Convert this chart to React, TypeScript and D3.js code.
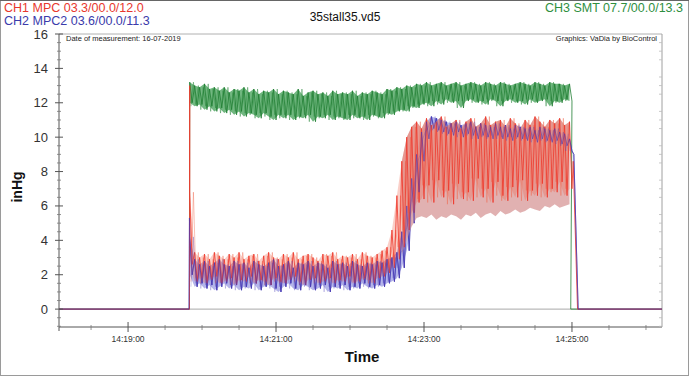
import React from 'react';
import * as d3 from 'd3';

// ---------- data (seconds relative to 14:19:00, values in inHg) ----------
const bandTimes = d3.range(50, 359, 4); // sampling grid of the envelopes

const greenHi = [13.2,13.0,12.9,13.1,12.8, 12.9,12.7,12.9,12.6,12.8, 12.7,12.9,12.6,12.8,12.5, 12.7,12.6,12.8,12.5,12.7, 12.6,12.5,12.8,12.4,12.6, 12.7,12.5,12.6,12.4,12.7, 12.5,12.6,12.5,12.7,12.4, 12.6,12.5,12.7,12.6,12.5, 12.8,12.7,12.9,12.8,13.0, 12.9,13.1,13.0,13.2,13.0, 13.1,13.2,13.0,13.1,13.2, 13.0,13.1,13.2,13.1,13.0, 13.2,13.1,13.0,13.2,13.1, 13.0,13.1,13.2,13.1,13.0, 13.2,13.1,13.0,13.2,13.1, 13.1,13.0,13.1];
const greenLo = [12.0,11.8,11.9,11.6,11.8, 11.5,11.7,11.4,11.6,11.3, 11.5,11.2,11.4,11.3,11.1, 11.4,11.2,11.0,11.3,11.1, 11.3,11.0,11.2,11.1,11.3, 10.9,11.2,11.1,11.3,11.0, 11.2,11.1,11.0,11.3,11.1, 11.2,11.0,11.3,11.2,11.1, 11.4,11.3,11.5,11.6,11.5, 11.8,11.7,11.9,12.0,11.8, 12.1,11.9,12.2,12.0,12.1, 11.7,12.1,12.2,12.0,12.1, 11.9,12.2,12.1,11.8,12.1, 12.2,12.0,12.1,11.9,12.2, 12.0,12.1,12.2,11.8,12.1, 12.0,12.2,12.1];

const redHi = [6.8,
  3.3,3.0,3.2,2.9,3.3, 3.1,2.9,3.2,3.0,3.3, 2.9,3.1,3.2,2.8,3.1, 3.3,3.0,2.9,3.2,3.0, 3.3,2.9,3.1,3.2,3.0, 2.8,3.2,3.1,3.3,2.9, 3.1,3.0,3.2,2.9,3.3, 3.1,3.0,3.2,3.4,3.6,
  4.6,6.6,8.6,10.0,10.6,10.9,
  10.5,11.1,10.7,10.9,11.2, 10.6,10.8,11.0,10.5,10.9, 11.1,10.6,10.8,11.2,10.7, 10.9,11.0,10.6,11.1,10.8, 10.5,11.0,10.7,11.2,10.9, 10.6,11.0,10.8,11.1,10.7, 10.9];
const redLo = [2.6,
  1.6,1.8,1.5,1.7,1.9, 1.5,1.6,1.8,1.4,1.7, 1.6,1.9,1.5,1.7,1.6, 1.4,1.8,1.6,1.5,1.7, 1.9,1.6,1.4,1.7,1.8, 1.5,1.6,1.8,1.5,1.7, 1.6,1.9,1.5,1.6,1.8, 1.7,1.5,1.8,1.9,2.1,
  2.4,2.9,3.6,4.6,5.6,6.2,
  6.4,7.2,6.2,7.5,6.5, 6.9,6.1,7.3,6.4,6.8, 6.3,7.6,6.5,7.0,6.2, 7.4,6.6,6.3,7.1,6.5, 7.5,6.3,6.9,6.6,7.3, 6.5,7.0,6.8,7.4,6.6, 7.0];
// pale lower envelope of CH1 during the high phase (from grid index 43 on)
const pinkFrom = 43;
const pinkLo = [3.2,4.0,4.8,5.3,5.4, 5.3,5.5,5.2,5.4,5.3, 5.5,5.4,5.2,5.5,5.4, 5.6,5.3,5.5,5.6,5.4, 5.7,5.5,5.6,5.8,5.6, 5.7,5.9,5.8,5.7,6.0, 5.9,6.1,5.9,6.0,6.1];

const blueHi = [4.2,
  2.9,2.6,2.8,2.5,2.7, 2.9,2.6,2.5,2.8,2.6, 2.7,2.4,2.8,2.6,2.5, 2.7,2.9,2.5,2.6,2.8, 2.4,2.7,2.6,2.8,2.5, 2.7,2.6,2.4,2.8,2.6, 2.7,2.5,2.8,2.6,2.5, 2.7,2.6,2.8,2.7,2.9, 3.0,
  3.3,4.5,6.0,7.6,9.0,10.3,10.9,11.2,11.1,
  11.0,10.9,10.8,10.9,10.7, 10.8,10.9,10.6,10.8,10.7, 10.6,10.8,10.6,10.7,10.5, 10.7,10.6,10.5,10.6,10.4, 10.6,10.5,10.4,10.5,10.3, 10.2,9.9];
const blueLo = [2.0,
  1.3,1.5,1.2,1.4,1.1, 1.3,1.5,1.2,1.4,1.1, 1.3,1.2,1.5,1.1,1.3, 1.4,1.2,1.0,1.3,1.5, 1.2,1.1,1.4,1.3,1.1, 1.2,1.4,1.0,1.3,1.2, 1.4,1.1,1.3,1.2,1.5, 1.3,1.2,1.4,1.3,1.5, 1.6,
  1.8,2.4,3.4,5.0,6.8,8.6,9.9,10.5,10.4,
  10.3,10.2,10.1,10.3,10.0, 10.2,10.1,9.9,10.1,10.0, 9.9,10.1,9.9,10.0,9.8, 10.0,9.9,9.8,9.9,9.7, 9.9,9.8,9.7,9.8,9.6, 9.5,9.2];

// idle (zero) phases and switch-on / switch-off edges
const greenStartT = [-56, 49.8];   const greenStartV = [0, 0];
const greenEndT = [359, 433];      const greenEndV = [0, 0];
const redStartT = [-56, 49.8, 50]; const redStartV = [0, 0, 13.0];
const redEndT = [361, 364.5, 433]; const redEndV = [8.6, 0, 0];
const blueStartT = [-56, 49.5, 49.8]; const blueStartV = [0, 0, 5.3];
const blueEndT = [361.5, 365, 433];  const blueEndV = [9.0, 0, 0];

// axes
const xMajorTicks = [0, 120, 240, 360];
const xTickLabels = ['14:19:00', '14:21:00', '14:23:00', '14:25:00'];
const yTicks = [0, 2, 4, 6, 8, 10, 12, 14, 16];

const W = 689, H = 376;
const L = 59, R = 662, T = 34, B = 327;
const FONT = "Arial, 'Liberation Sans', sans-serif";
const NARROW = "'Liberation Sans Narrow', 'Arial Narrow', Arial, 'Liberation Sans', sans-serif";

type P = [number, number];

export default function App() {
  const x = d3.scaleLinear().domain([-56, 433]).range([L, R]);
  const y = d3.scaleLinear().domain([-1.04, 16]).range([B, T]);

  const n = (a: number[], b: number[]) => Math.min(bandTimes.length, a.length, b.length);

  // trace drawn as oscillation between the read envelopes
  const zig = (lo: number[], hi: number[]) => {
    const pts: P[] = [];
    for (let i = 0; i < n(lo, hi); i++) {
      pts.push([bandTimes[i], hi[i]]);
      pts.push([bandTimes[i] + 2, lo[i]]);
    }
    return pts;
  };
  // second, phase-shifted pass of the same envelopes for density
  const zig2 = (lo: number[], hi: number[]) => {
    const pts: P[] = [];
    const m = n(lo, hi);
    for (let i = 0; i < m - 1; i++) {
      pts.push([bandTimes[i] + 1, lo[i + 1]]);
      pts.push([bandTimes[i] + 3, hi[i]]);
    }
    return pts;
  };
  const pairs = (ts: number[], vs: number[]) => ts.map((t, i) => [t, vs[i]] as P);

  const line = d3.line<P>().x(d => x(d[0])).y(d => y(d[1]));
  const area = d3.area<{ t: number; lo: number; hi: number }>()
    .x(d => x(d.t)).y0(d => y(d.lo)).y1(d => y(d.hi));
  const band = (lo: number[], hi: number[], from = 0) => {
    const out: { t: number; lo: number; hi: number }[] = [];
    for (let i = 0; i < lo.length; i++) {
      const k = i + from;
      if (k >= bandTimes.length || k >= hi.length) break;
      out.push({ t: bandTimes[k], lo: lo[i], hi: hi[k] });
    }
    return out;
  };
  const bandSame = (lo: number[], hi: number[]) =>
    d3.range(n(lo, hi)).map(i => ({ t: bandTimes[i], lo: lo[i], hi: hi[i] }));

  const greenPts = [...pairs(greenStartT, greenStartV), ...zig(greenLo, greenHi), ...pairs(greenEndT, greenEndV)];
  const redPts = [...pairs(redStartT, redStartV), ...zig(redLo, redHi), ...pairs(redEndT, redEndV)];
  const bluePts = [...pairs(blueStartT, blueStartV), ...zig(blueLo, blueHi), ...pairs(blueEndT, blueEndV)];

  const yMinor = d3.range(-1, 16.01, 0.5).filter(v => v >= -1.04 && Math.abs(v % 2) > 1e-6);
  const xMinor = d3.range(-30, 433, 30).filter(v => !xMajorTicks.includes(v));

  return (
    <svg width={W} height={H} style={{ position: 'absolute', left: 0, top: 0, background: '#fff' }}>
      <defs>
        <clipPath id="plot"><rect x={L} y={T} width={R - L} height={B - T} /></clipPath>
      </defs>
      <rect x={0.5} y={0.5} width={W - 1} height={H - 1} fill="#fff" stroke="#9a9a9a" />

      {/* frame */}
      <line x1={L} x2={R} y1={T} y2={T} stroke="#b0b0b0" />
      <line x1={R} x2={R} y1={T} y2={B} stroke="#a0a0a0" />
      <line x1={L} x2={R} y1={y(0)} y2={y(0)} stroke="#a8a8a8" strokeWidth={1} />

      <g clipPath="url(#plot)">
        {/* CH3 green */}
        <path d={area(bandSame(greenLo, greenHi)) || ''} fill="#34984a" opacity={0.7} />
        <path d={line(zig2(greenLo, greenHi)) || ''} fill="none" stroke="#2a8a3e" strokeWidth={0.6} opacity={0.8} />
        <path d={line(greenPts) || ''} fill="none" stroke="#1f7d32" strokeWidth={0.8} />

        {/* CH2 blue underlay */}
        <path d={area(bandSame(blueLo, blueHi)) || ''} fill="#5a5ad0" opacity={0.45} />
        <path d={line(bluePts) || ''} fill="none" stroke="#3c3cb8" strokeWidth={0.8} />

        {/* CH1 pale envelope and red trace */}
        <path d={area(band(pinkLo, redHi, pinkFrom)) || ''} fill="#dca3a3" opacity={0.85} />
        <path d={area(bandSame(redLo, redHi)) || ''} fill="#f0604a" opacity={0.3} />
        <path d={line(zig2(redLo, redHi)) || ''} fill="none" stroke="#f06a50" strokeWidth={0.6} opacity={0.7} />
        <path d={line(redPts) || ''} fill="none" stroke="#ee3b2e" strokeWidth={0.85} />

        {/* CH2 on top, semi transparent */}
        <path d={line(zig2(blueLo, blueHi)) || ''} fill="none" stroke="#5040b8" strokeWidth={0.6} opacity={0.45} />
        <path d={line(bluePts) || ''} fill="none" stroke="#4a36b0" strokeWidth={0.9} opacity={0.6} />
      </g>

      {/* axes */}
      <line x1={L} x2={L} y1={T} y2={B + 4} stroke="#555" />
      <line x1={L} x2={R} y1={B} y2={B} stroke="#555" />
      {yTicks.map(v => (
        <g key={'yt' + v}>
          <line x1={L - 4} x2={L + 4} y1={y(v)} y2={y(v)} stroke="#555" />
          <text x={48} y={y(v) + 4.5} textAnchor="end" fontFamily={FONT} fontSize={13} fill="#333">{v}</text>
        </g>
      ))}
      {yMinor.map(v => (
        <g key={'ym' + v}>
          <line x1={L - 2} x2={L + 2} y1={y(v)} y2={y(v)} stroke="#777" strokeWidth={0.8} />
          <line x1={R - 3} x2={R} y1={y(v)} y2={y(v)} stroke="#bbb" strokeWidth={0.8} />
        </g>
      ))}
      {xMajorTicks.map((t, i) => (
        <g key={'xt' + t}>
          <line x1={x(t)} x2={x(t)} y1={B - 5} y2={B + 5} stroke="#555" />
          <text x={x(t)} y={B + 15} textAnchor="middle" fontFamily={NARROW} fontSize={8.5} fill="#333">{xTickLabels[i]}</text>
        </g>
      ))}
      {xMinor.map(t => (
        <line key={'xm' + t} x1={x(t)} x2={x(t)} y1={B - 2} y2={B + 3} stroke="#777" strokeWidth={0.8} />
      ))}

      <text x={362} y={362} textAnchor="middle" fontFamily={NARROW} fontWeight="bold" fontSize={15} fill="#111">Time</text>
      <text transform={`translate(22,187) rotate(-90)`} textAnchor="middle" fontFamily={FONT} fontWeight="bold" fontSize={14} fill="#111">inHg</text>

      <text x={66} y={41} fontFamily={FONT} fontSize={7.5} fill="#222">Date of measurement: 16-07-2019</text>
      <text x={657} y={41} textAnchor="end" fontFamily={FONT} fontSize={7.5} fill="#222">Graphics: VaDia by BioControl</text>

      {/* header */}
      <rect x={1} y={1} width={W - 2} height={28} fill="#fff" />
      <line x1={0} x2={W} y1={0.5} y2={0.5} stroke="#666" />
      <text x={4} y={12} fontFamily={FONT} fontSize={12.5} fill="#e8382e">CH1 MPC 03.3/00.0/12.0</text>
      <text x={4} y={25} fontFamily={FONT} fontSize={12.5} fill="#3b3bab">CH2 MPC2 03.6/00.0/11.3</text>
      <text x={345} y={21} textAnchor="middle" fontFamily={FONT} fontSize={12} fill="#111">35stall35.vd5</text>
      <text x={683} y={12} textAnchor="end" fontFamily={FONT} fontSize={12.5} fill="#2f8f3f">CH3 SMT 07.7/00.0/13.3</text>
    </svg>
  );
}
